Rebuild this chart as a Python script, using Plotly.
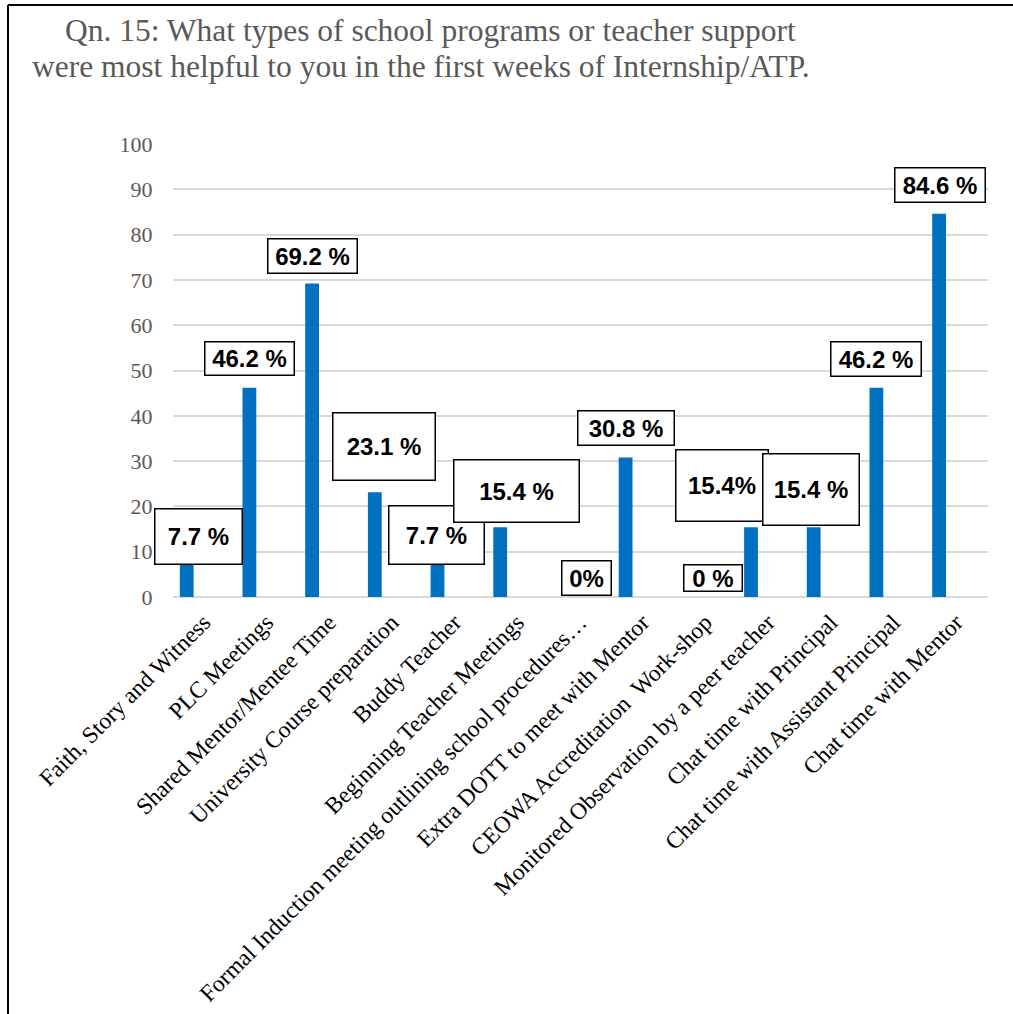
import plotly.graph_objects as go

categories = [
    "Faith, Story and Witness",
    "PLC Meetings",
    "Shared Mentor/Mentee Time",
    "University Course preparation",
    "Buddy Teacher",
    "Beginning Teacher Meetings",
    "Formal Induction meeting outlining school procedures…",
    "Extra DOTT to meet with Mentor",
    "CEOWA Accreditation\u00a0 Work-shop",
    "Monitored Observation by a peer teacher",
    "Chat time with Principal",
    "Chat time with Assistant Principal",
    "Chat time with Mentor",
]
values = [7.7, 46.2, 69.2, 23.1, 7.7, 15.4, 0, 30.8, 0, 15.4, 15.4, 46.2, 84.6]
label_texts = ["7.7 %", "46.2 %", "69.2 %", "23.1 %", "7.7 %", "15.4 %", "0%",
               "30.8 %", "0 %", "15.4%", "15.4 %", "46.2 %", "84.6 %"]
y_ticks = [0, 10, 20, 30, 40, 50, 60, 70, 80, 90, 100]

# label box layout (pixel offsets from bar top, box sizes)
label_dx = [12, 0, 0, 9, -1, 16, 24, 0, 25, -29, -3, 0, 1]
label_dy = [26, 29, 28, 46, 27, 36, 19, 29, 19, 42, 38, 29, 29]
label_w = [89, 91, 91, 104, 97, 127, 51, 98, 60, 94, 98, 92, 92]
label_h = [57, 35, 36, 69, 60, 64, 36, 36, 28, 73, 73, 36, 36]

W, H = 1013, 1014
ML, MR, MT, MB = 173, 25, 144, 417
PW = W - ML - MR
PH = H - MT - MB


def px_x(px):
    return (px - ML) / PW


def px_y(py):
    return (H - MB - py) / PH


serif = "Liberation Serif, Times New Roman, serif"
sans = "Liberation Sans, Arial, sans-serif"

fig = go.Figure()
fig.add_trace(go.Bar(
    x=list(range(len(categories))),
    y=values,
    width=0.22,
    marker=dict(color="#0070C0", line=dict(width=0)),
    hoverinfo="skip",
))

annotations = []
for i, (v, t) in enumerate(zip(values, label_texts)):
    annotations.append(dict(
        x=i, y=v, xref="x", yref="y",
        text=t, showarrow=False,
        xanchor="center", yanchor="middle",
        xshift=label_dx[i], yshift=label_dy[i],
        width=label_w[i] - 3, height=label_h[i] - 3,
        borderpad=0, borderwidth=1.5, bordercolor="#000000",
        bgcolor="#FFFFFF",
        font=dict(family=sans, size=24, color="#000000", weight="bold"),
    ))

title_lines = [
    ("Qn. 15: What types of school programs or teacher support", 63, 30),
    ("were most helpful to you in the first weeks of Internship/ATP.", 30, 66),
]
for txt, lx, cy in title_lines:
    annotations.append(dict(
        x=px_x(lx), y=px_y(cy), xref="paper", yref="paper",
        text=txt, showarrow=False, xanchor="left", yanchor="middle",
        font=dict(family=serif, size=31.5, color="#595959"),
    ))

shapes = [
    dict(type="line", xref="paper", yref="paper",
         x0=px_x(8), x1=px_x(1013), y0=px_y(5), y1=px_y(5),
         line=dict(color="#000000", width=2)),
    dict(type="line", xref="paper", yref="paper",
         x0=px_x(8), x1=px_x(8), y0=px_y(5), y1=px_y(1014),
         line=dict(color="#000000", width=2)),
]

span = PW / 62.7
r0 = -(186.7 - ML) / 62.7

fig.update_layout(
    width=W, height=H,
    margin=dict(l=ML, r=MR, t=MT, b=MB, autoexpand=False),
    paper_bgcolor="#FFFFFF", plot_bgcolor="#FFFFFF",
    showlegend=False,
    annotations=annotations,
    shapes=shapes,
    xaxis=dict(
        automargin=False,
        range=[r0, r0 + span],
        tickmode="array",
        tickvals=list(range(len(categories))),
        ticktext=categories,
        tickangle=-45,
        ticklabelshift=17,
        ticklabelstandoff=6,
        showgrid=False, zeroline=False, showline=False,
        ticks="",
        tickfont=dict(family=serif, size=23.5, color="#000000"),
    ),
    yaxis=dict(
        automargin=False,
        range=[0, 100],
        tickmode="array", tickvals=y_ticks,
        showgrid=True, gridcolor="#D9D9D9", gridwidth=1.5,
        zeroline=True, zerolinecolor="#D9D9D9", zerolinewidth=1.5,
        showline=False,
        ticks="outside", ticklen=15, tickcolor="rgba(0,0,0,0)",
        tickfont=dict(family=serif, size=22, color="#595959"),
    ),
)

fig.write_html("out.html", config={"displayModeBar": False},
               post_script="document.body.style.margin='0';")
